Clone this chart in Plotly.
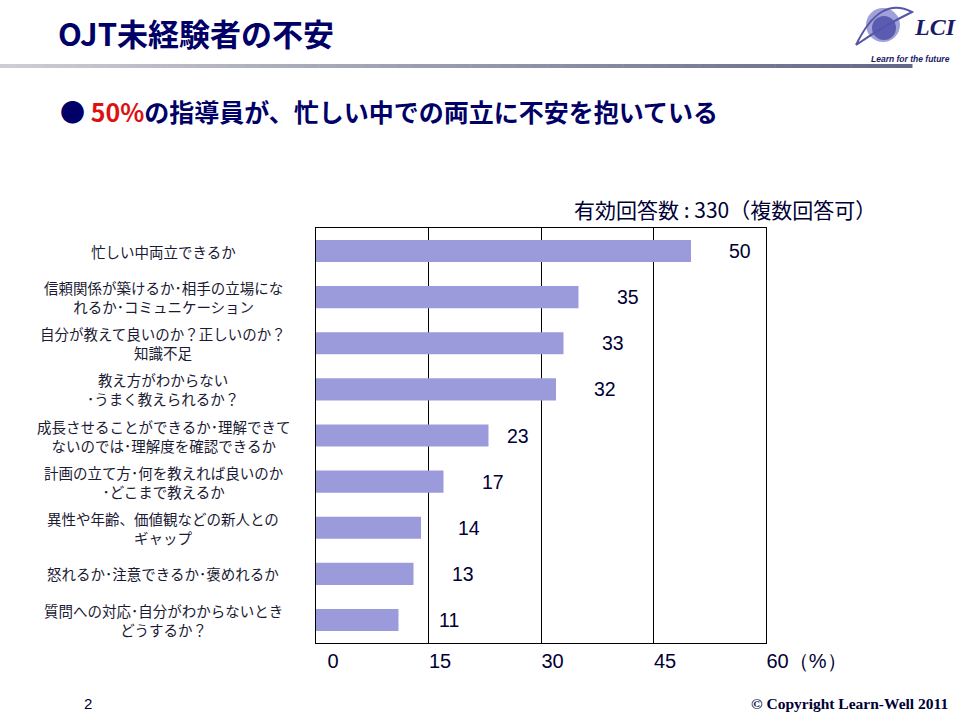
import plotly.graph_objects as go

# ---------------- data ----------------
categories = [
    "忙しい中両立できるか",
    "信頼関係が築けるか･相手の立場にな<br>れるか･コミュニケーション",
    "自分が教えて良いのか？正しいのか？<br>知識不足",
    "教え方がわからない<br>･うまく教えられるか？",
    "成長させることができるか･理解できて<br>ないのでは･理解度を確認できるか",
    "計画の立て方･何を教えれば良いのか<br>･どこまで教えるか",
    "異性や年齢、価値観などの新人との<br>ギャップ",
    "怒れるか･注意できるか･褒めれるか",
    "質問への対応･自分がわからないとき<br>どうするか？",
]
values = [50, 35, 33, 32, 23, 17, 14, 13, 11]
tick_vals = [0, 15, 30, 45, 60]
tick_text = ["\u20070", "15", "30", "45", "60（%）"]

title_text = "OJT未経験者の不安"
subtitle_red = "50%"
subtitle_rest = "の指導員が、忙しい中での両立に不安を抱いている"
note_text = "有効回答数 : 330（複数回答可）"
page_no = "2"
copyright_text = "© Copyright Learn-Well 2011"

# ---------------- style / layout ----------------
label_shift = [36, 36, 36, 36, 16, 36, 35, 36, 38]  # pixel offsets of value labels

W, H = 960, 720
L, R, T, B = 316, 766, 228, 643
JP = "Noto Sans CJK JP, Noto Sans, sans-serif"

def px(x):
    return (x - L) / (R - L)

def py(y):
    return (B - y) / (B - T)

fig = go.Figure()
fig.add_trace(go.Bar(
    x=values, y=categories, orientation="h",
    marker=dict(color="#9b9bdc", line=dict(width=0)),
    width=0.48, hoverinfo="skip",
))

annotations = []
for c in categories:
    annotations.append(dict(
        x=px(163), xref="paper", y=c, yref="y", text=c, showarrow=False,
        xanchor="center", yanchor="middle", align="center",
        font=dict(family=JP, size=14.5, color="#1a1a33"),
    ))
for c, v, s in zip(categories, values, label_shift):
    annotations.append(dict(
        x=v, xref="x", y=c, yref="y", text=str(v), showarrow=False,
        xanchor="left", yanchor="middle", xshift=s,
        font=dict(family="Liberation Sans, Arial, sans-serif", size=19.5, color="#000033"),
    ))

annotations += [
    dict(x=px(56), y=py(33), xref="paper", yref="paper", text="<b>" + title_text + "</b>",
         showarrow=False, xanchor="left", yanchor="middle",
         font=dict(family=JP, size=31, color="#000066")),
    dict(x=px(58), y=py(111), xref="paper", yref="paper",
         text="<span style='color:#000066'>●</span> <b><span style='color:#dd1111'>" + subtitle_red +
              "</span></b><b>" + subtitle_rest + "</b>",
         showarrow=False, xanchor="left", yanchor="middle",
         font=dict(family=JP, size=25, color="#000066")),
    dict(x=px(572), y=py(209), xref="paper", yref="paper", text=note_text,
         showarrow=False, xanchor="left", yanchor="middle",
         font=dict(family=JP, size=21, color="#000033")),
    dict(x=px(88), y=py(703), xref="paper", yref="paper", text=page_no,
         showarrow=False, xanchor="center", yanchor="middle",
         font=dict(family="Liberation Sans, Arial, sans-serif", size=15, color="#000033")),
    dict(x=px(950), y=py(703), xref="paper", yref="paper", text="<b>" + copyright_text + "</b>",
         showarrow=False, xanchor="right", yanchor="middle",
         font=dict(family="Liberation Serif, Times New Roman, serif", size=15.5, color="#000033")),
    dict(x=px(912), y=py(27), xref="paper", yref="paper", text="<b><i>LCI</i></b>",
         showarrow=False, xanchor="left", yanchor="middle",
         font=dict(family="Liberation Serif, Times New Roman, serif", size=24, color="#1a1a66")),
    dict(x=px(952), y=py(59), xref="paper", yref="paper", text="<b><i>Learn for the future</i></b>",
         showarrow=False, xanchor="right", yanchor="middle",
         font=dict(family="Liberation Sans, Arial, sans-serif", size=8.5, color="#1a1a66")),
]

shapes = []
n = 60
x0, x1 = 0, 912
c0, c1 = (205, 205, 212), (100, 104, 135)
for i in range(n):
    t = i / (n - 1)
    col = tuple(int(c0[k] + (c1[k] - c0[k]) * t) for k in range(3))
    shapes.append(dict(type="rect", xref="paper", yref="paper",
                       x0=px(x0 + (x1 - x0) * i / n), x1=px(x0 + (x1 - x0) * (i + 1) / n + 0.5),
                       y0=py(68), y1=py(64), line=dict(width=0),
                       fillcolor="rgb(%d,%d,%d)" % col, layer="below"))
shapes.append(dict(type="circle", xref="paper", yref="paper",
                   x0=px(866), x1=px(900), y0=py(42), y1=py(8),
                   fillcolor="#8a8ad0", line=dict(width=0), opacity=0.8))
shapes.append(dict(type="circle", xref="paper", yref="paper",
                   x0=px(872), x1=px(896), y0=py(40), y1=py(16),
                   fillcolor="#4a4aa8", line=dict(width=0), opacity=0.8))
shapes.append(dict(type="path", xref="paper", yref="paper",
                   path="M %f,%f Q %f,%f %f,%f Q %f,%f %f,%f" % (
                       px(856), py(45), px(880), py(-5), px(912), py(12),
                       px(885), py(25), px(856), py(45)),
                   line=dict(color="#5555aa", width=2), fillcolor="rgba(0,0,0,0)"))

fig.update_layout(
    width=W, height=H,
    margin=dict(l=L, r=W - R, t=T, b=H - B, pad=0),
    paper_bgcolor="white", plot_bgcolor="white",
    showlegend=False, bargap=0.5,
    annotations=annotations, shapes=shapes,
    xaxis=dict(range=[0, 60], tickvals=tick_vals, ticktext=tick_text,
               ticklabelposition="outside right", ticks="",
               tickfont=dict(family="Liberation Sans, Arial, sans-serif", size=20, color="#000033"),
               showgrid=True, gridcolor="black", gridwidth=1,
               showline=True, linecolor="black", linewidth=1, mirror=True,
               zeroline=False, fixedrange=True),
    yaxis=dict(autorange="reversed", showticklabels=False, ticks="",
               showgrid=False, showline=True, linecolor="black", linewidth=1,
               mirror=True, zeroline=False, fixedrange=True),
)

fig.write_html("out.html")
